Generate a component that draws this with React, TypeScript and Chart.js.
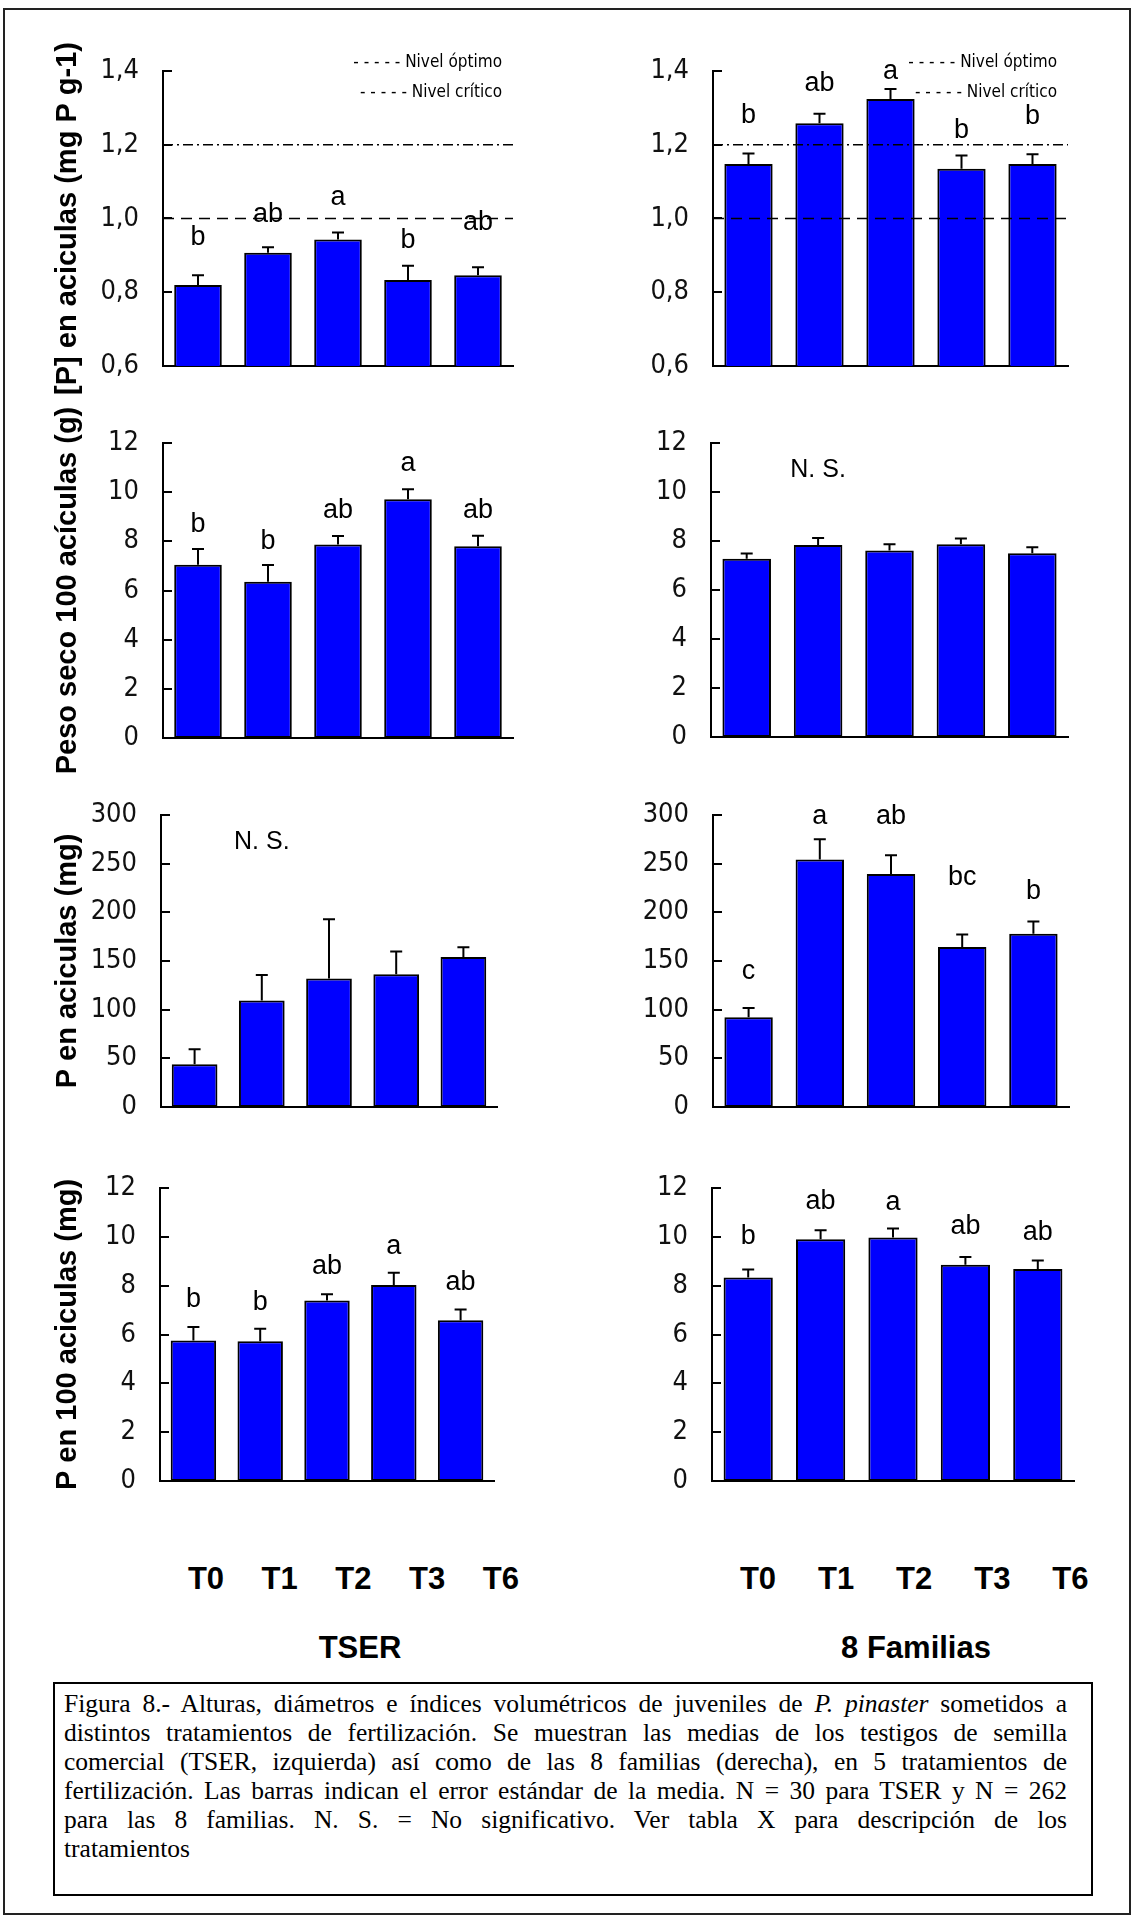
import React, { useEffect, useRef } from "react";
import { Chart, registerables } from "chart.js";

Chart.register(...registerables);

// ---------------- data ----------------
const categories = ["T0", "T1", "T2", "T3", "T6"];
const groupLabels = ["TSER", "8 Familias"];

// [P] en acículas (mg P g-1)
const concTicks = ["0,6", "0,8", "1,0", "1,2", "1,4"];
const concRange = [0.6, 1.4, 0.2];
const nivelOptimo = 1.2;
const nivelCritico = 1.0;
const legendTexts = ["- - - - - Nivel óptimo", "- - - - - Nivel crítico"];

const concTser = [0.82, 0.907, 0.943, 0.833, 0.846];
const concTserSE = [0.026, 0.015, 0.019, 0.039, 0.022];
const concTserLetters = ["b", "ab", "a", "b", "ab"];
const concTserLetterY = [0.928, 0.991, 1.037, 0.919, 0.969];

const concFam = [1.148, 1.258, 1.324, 1.135, 1.148];
const concFamSE = [0.028, 0.026, 0.027, 0.036, 0.026];
const concFamLetters = ["b", "ab", "a", "b", "b"];
const concFamLetterY = [1.26, 1.345, 1.378, 1.219, 1.255];

// Peso seco 100 acículas (g)
const pesoTicks = ["0", "2", "4", "6", "8", "10", "12"];
const pesoRange = [0, 12, 2];
const pesoTser = [7.05, 6.36, 7.87, 9.71, 7.8];
const pesoTserSE = [0.64, 0.68, 0.35, 0.41, 0.43];
const pesoTserLetters = ["b", "b", "ab", "a", "ab"];
const pesoTserLetterY = [8.38, 7.7, 8.95, 10.85, 8.95];

const pesoFam = [7.28, 7.84, 7.61, 7.87, 7.5];
const pesoFamSE = [0.21, 0.28, 0.26, 0.23, 0.24];
const pesoFamNSY = 10.6;

// P en acículas (mg)
const ptotTicks = ["0", "50", "100", "150", "200", "250", "300"];
const ptotRange = [0, 300, 50];
const ptotTser = [43.9, 109.3, 131.9, 136.3, 154.1];
const ptotTserSE = [15.4, 26.3, 60.9, 23.4, 9.9];
const ptotTserNSY = 265.5;

const ptotFam = [92.2, 254.2, 239.4, 164.4, 178.1];
const ptotFamSE = [9.5, 20.8, 19.2, 12.7, 12.4];
const ptotFamLetters = ["c", "a", "ab", "bc", "b"];
const ptotFamLetterY = [131.9, 291.2, 291.0, 227.8, 213.4];

// P en 100 acículas (mg)
const p100Ticks = ["0", "2", "4", "6", "8", "10", "12"];
const p100Range = [0, 12, 2];
const p100Tser = [5.75, 5.72, 7.39, 8.03, 6.58];
const p100TserSE = [0.56, 0.52, 0.26, 0.5, 0.44];
const p100TserLetters = ["b", "b", "ab", "a", "ab"];
const p100TserLetterY = [7.13, 7.02, 8.46, 9.31, 7.81];

const p100Fam = [8.33, 9.9, 9.97, 8.86, 8.68];
const p100FamSE = [0.33, 0.37, 0.37, 0.31, 0.35];
const p100FamLetters = ["b", "ab", "a", "ab", "ab"];
const p100FamLetterY = [9.72, 11.15, 11.09, 10.13, 9.86];

const yTitles = [
  "[P] en aciculas (mg P g-1)",
  "Peso seco 100 acículas (g)",
  "P en aciculas (mg)",
  "P en 100 aciculas (mg)",
];

const captionLines = [
  "Figura 8.- Alturas, diámetros e índices volumétricos de juveniles de |P. pinaster| sometidos a",
  "distintos tratamientos de fertilización. Se muestran las medias de los testigos de semilla",
  "comercial (TSER, izquierda) así como de las 8 familias (derecha), en 5 tratamientos de",
  "fertilización. Las barras indican el error estándar de la media. N = 30 para TSER y N =  262",
  "para las 8 familias. N. S. = No significativo. Ver tabla X para descripción de los",
  "tratamientos",
];

// ---------------- layout / styling ----------------
const NARROW = "'Liberation Sans Narrow', 'Arial Narrow', 'DejaVu Sans Condensed', sans-serif";
const SANS = "'Liberation Sans', Arial, sans-serif";
const PAD_V = 70;

type PanelCfg = {
  means: number[];
  se: number[];
  letters?: string[];
  letterY?: number[];
  nsY?: number;
  range: number[];
  tickLabels: string[];
  title?: string;
  refs?: boolean;
  canvasLeft: number;
  canvasRight: number;
  axisX: number;
  axisRight: number;
  top: number;
  bottom: number;
};

const LEFT = { canvasLeft: 30, canvasRight: 560 };
const RIGHT = { canvasLeft: 620, canvasRight: 1110 };

const panels: PanelCfg[] = [
  { ...LEFT, axisX: 163, axisRight: 513, top: 71, bottom: 366, means: concTser, se: concTserSE, letters: concTserLetters, letterY: concTserLetterY, range: concRange, tickLabels: concTicks, title: yTitles[0], refs: true },
  { ...RIGHT, axisX: 713, axisRight: 1068, top: 71, bottom: 366, means: concFam, se: concFamSE, letters: concFamLetters, letterY: concFamLetterY, range: concRange, tickLabels: concTicks, refs: true },
  { ...LEFT, axisX: 163, axisRight: 513, top: 443, bottom: 738, means: pesoTser, se: pesoTserSE, letters: pesoTserLetters, letterY: pesoTserLetterY, range: pesoRange, tickLabels: pesoTicks, title: yTitles[1] },
  { ...RIGHT, axisX: 711, axisRight: 1068, top: 443, bottom: 737, means: pesoFam, se: pesoFamSE, nsY: pesoFamNSY, range: pesoRange, tickLabels: pesoTicks },
  { ...LEFT, axisX: 161, axisRight: 497, top: 815, bottom: 1107, means: ptotTser, se: ptotTserSE, nsY: ptotTserNSY, range: ptotRange, tickLabels: ptotTicks, title: yTitles[2] },
  { ...RIGHT, axisX: 713, axisRight: 1069, top: 815, bottom: 1107, means: ptotFam, se: ptotFamSE, letters: ptotFamLetters, letterY: ptotFamLetterY, range: ptotRange, tickLabels: ptotTicks },
  { ...LEFT, axisX: 160, axisRight: 494, top: 1188, bottom: 1481, means: p100Tser, se: p100TserSE, letters: p100TserLetters, letterY: p100TserLetterY, range: p100Range, tickLabels: p100Ticks, title: yTitles[3] },
  { ...RIGHT, axisX: 712, axisRight: 1074, top: 1188, bottom: 1481, means: p100Fam, se: p100FamSE, letters: p100FamLetters, letterY: p100FamLetterY, range: p100Range, tickLabels: p100Ticks },
];

function Panel({ cfg }: { cfg: PanelCfg }) {
  const ref = useRef<HTMLCanvasElement>(null);
  const width = cfg.canvasRight - cfg.canvasLeft;
  const height = cfg.bottom - cfg.top + 2 * PAD_V;

  useEffect(() => {
    const canvas = ref.current;
    if (!canvas) return;

    const decor = {
      id: "decor",
      afterDatasetsDraw(chart: any) {
        const { ctx, chartArea } = chart;
        const y = chart.scales.y;
        ctx.save();
        ctx.strokeStyle = "#000";
        ctx.fillStyle = "#000";

        // inward tick marks
        ctx.lineWidth = 2;
        ctx.setLineDash([]);
        y.ticks.forEach((t: any) => {
          const py = Math.round(y.getPixelForValue(t.value));
          ctx.beginPath();
          ctx.moveTo(chartArea.left, py);
          ctx.lineTo(chartArea.left + 9, py);
          ctx.stroke();
        });

        // reference levels
        if (cfg.refs) {
          ctx.lineWidth = 1.5;
          const po = y.getPixelForValue(nivelOptimo);
          ctx.setLineDash([10, 4, 2, 4]);
          ctx.beginPath();
          ctx.moveTo(chartArea.left, po);
          ctx.lineTo(chartArea.right, po);
          ctx.stroke();
          const pc = y.getPixelForValue(nivelCritico);
          ctx.setLineDash([11, 7]);
          ctx.beginPath();
          ctx.moveTo(chartArea.left, pc);
          ctx.lineTo(chartArea.right, pc);
          ctx.stroke();
          ctx.setLineDash([]);
          ctx.font = `17px ${NARROW}`;
          ctx.textAlign = "right";
          ctx.textBaseline = "alphabetic";
          ctx.fillText(legendTexts[0], chartArea.right - 11, chartArea.top - 4);
          ctx.fillText(legendTexts[1], chartArea.right - 11, chartArea.top + 26);
        }

        // error bars
        const meta = chart.getDatasetMeta(0);
        ctx.lineWidth = 2;
        meta.data.forEach((bar: any, i: number) => {
          const v = cfg.means[i];
          const px = bar.x;
          const y0 = y.getPixelForValue(v);
          const y1 = y.getPixelForValue(v + cfg.se[i]);
          ctx.beginPath();
          ctx.moveTo(px, y0);
          ctx.lineTo(px, y1);
          ctx.moveTo(px - 6, y1);
          ctx.lineTo(px + 6, y1);
          ctx.stroke();
        });

        // significance letters
        ctx.font = `27px ${SANS}`;
        ctx.textAlign = "center";
        ctx.textBaseline = "alphabetic";
        if (cfg.letters && cfg.letterY) {
          meta.data.forEach((bar: any, i: number) => {
            ctx.fillText(cfg.letters![i], bar.x, y.getPixelForValue(cfg.letterY![i]));
          });
        }
        if (cfg.nsY !== undefined) {
          ctx.font = `25px ${SANS}`;
          ctx.fillText("N. S.", meta.data[1].x, y.getPixelForValue(cfg.nsY));
        }
        ctx.restore();
      },
    };

    const chart = new Chart(canvas, {
      type: "bar",
      data: {
        labels: categories,
        datasets: [
          {
            data: cfg.means,
            backgroundColor: "#0000ff",
            borderColor: "#000000",
            borderWidth: 2,
            borderSkipped: false,
            barPercentage: 0.68,
            categoryPercentage: 1,
          },
        ],
      },
      options: {
        responsive: false,
        animation: false,
        devicePixelRatio: 1,
        events: [],
        layout: {
          padding: { top: PAD_V, bottom: 0, left: 0, right: cfg.canvasRight - cfg.axisRight },
        },
        plugins: {
          legend: { display: false },
          tooltip: { enabled: false },
          title: { display: false },
        },
        scales: {
          x: {
            type: "category",
            offset: true,
            grid: { display: false, drawTicks: false },
            ticks: { display: false },
            border: { display: true, color: "#000", width: 2 },
            afterFit: (s: any) => {
              s.height = PAD_V;
            },
          },
          y: {
            type: "linear",
            min: cfg.range[0],
            max: cfg.range[1],
            grid: { display: false, drawTicks: false },
            border: { display: true, color: "#000", width: 2 },
            ticks: {
              stepSize: cfg.range[2],
              color: "#111",
              padding: 24,
              font: { family: NARROW, size: 27 },
              callback: (_v: any, i: number) => cfg.tickLabels[i],
            },
            title: cfg.title
              ? {
                  display: true,
                  text: cfg.title,
                  color: "#000",
                  font: { family: SANS, size: 29, weight: "bold", lineHeight: 1 },
                  padding: { top: 23, bottom: 0 },
                }
              : { display: false },
            afterFit: (s: any) => {
              s.width = cfg.axisX - cfg.canvasLeft;
            },
          },
        },
      } as any,
      plugins: [decor],
    });
    return () => chart.destroy();
  }, []);

  return (
    <canvas
      ref={ref}
      width={width}
      height={height}
      style={{
        position: "absolute",
        left: cfg.canvasLeft,
        top: cfg.top - PAD_V,
        width,
        height,
        display: "block",
      }}
    />
  );
}

function CaptionLine({ text, last }: { text: string; last: boolean }) {
  const parts = text.split("|");
  return (
    <div
      style={{
        textAlign: last ? "left" : "justify",
        textAlignLast: last ? "left" : "justify",
        whiteSpace: "nowrap",
        height: 29,
        lineHeight: "29px",
      } as any}
    >
      {parts.map((p, i) => (i % 2 === 1 ? <i key={i}>{p}</i> : <span key={i}>{p}</span>))}
    </div>
  );
}

export default function App() {
  const catStyle = (left: number): React.CSSProperties => ({
    position: "absolute",
    left: left - 50,
    width: 100,
    top: 1563,
    textAlign: "center",
    font: `bold 31px ${SANS}`,
    lineHeight: "31px",
    color: "#000",
  });
  return (
    <div style={{ position: "absolute", left: 0, top: 0, width: 1134, height: 1917, background: "#fff" }}>
      <div
        style={{
          position: "absolute",
          left: 3,
          top: 8,
          width: 1124,
          height: 1903,
          border: "2px solid #222",
        }}
      />
      {panels.map((p, i) => (
        <Panel key={i} cfg={p} />
      ))}
      {categories.map((c, i) => (
        <div key={"l" + c} style={catStyle(206 + i * 73.7)}>
          {c}
        </div>
      ))}
      {categories.map((c, i) => (
        <div key={"r" + c} style={catStyle(758 + i * 78.1)}>
          {c}
        </div>
      ))}
      <div style={{ ...catStyle(360), top: 1632, width: 300, left: 210 }}>{groupLabels[0]}</div>
      <div style={{ ...catStyle(916), top: 1632, width: 300, left: 766 }}>{groupLabels[1]}</div>
      <div
        style={{
          position: "absolute",
          left: 53,
          top: 1682,
          width: 1036,
          height: 210,
          border: "2px solid #000",
          boxSizing: "content-box",
        }}
      >
        <div
          style={{
            position: "absolute",
            left: 9,
            right: 24,
            top: 5,
            font: `25.5px 'Liberation Serif', 'Times New Roman', serif`,
            color: "#000",
          }}
        >
          {captionLines.map((l, i) => (
            <CaptionLine key={i} text={l} last={i === captionLines.length - 1} />
          ))}
        </div>
      </div>
    </div>
  );
}
